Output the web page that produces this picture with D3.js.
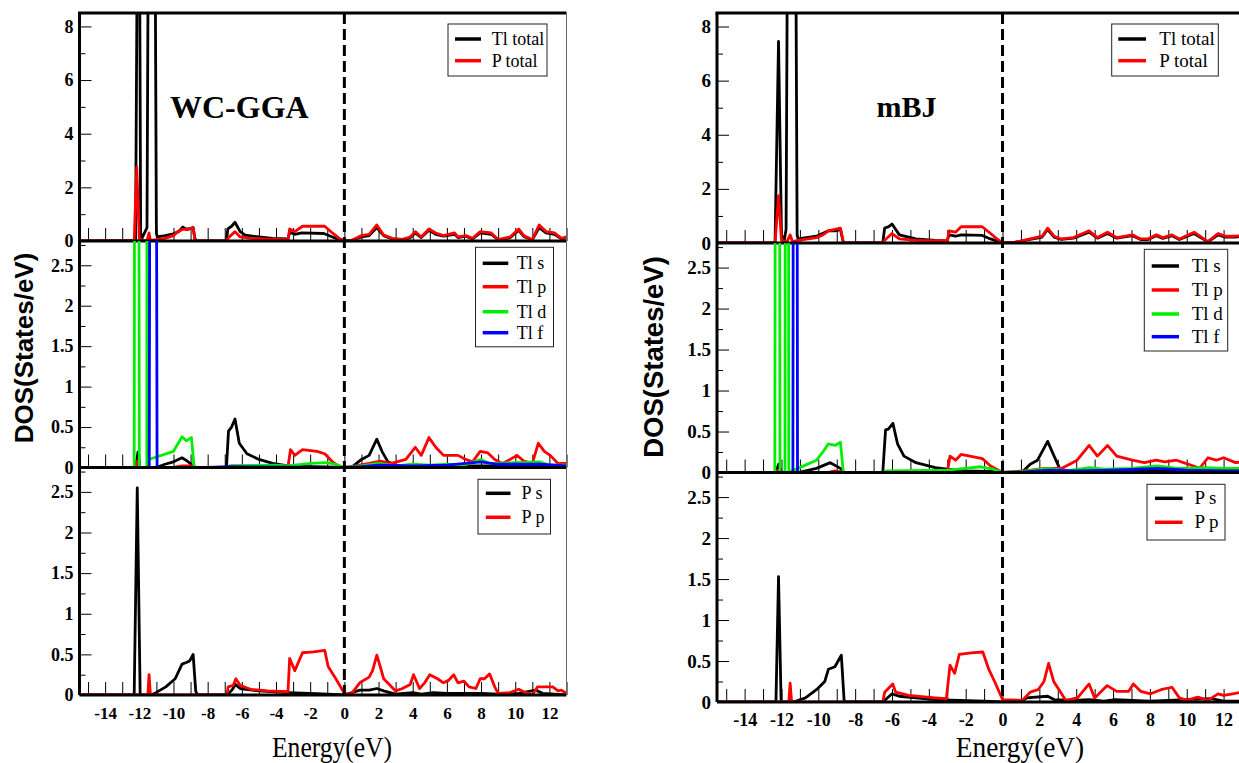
<!DOCTYPE html>
<html>
<head>
<meta charset="utf-8">
<title>DOS Tl-P</title>
<style>
  body { margin: 0; background: #fff; }
  .tick line { stroke: #000; stroke-width: 1px; }
</style>
</head>
<body>
<script src="https://d3js.org/d3.v7.min.js"></script>
<script>
'use strict';

// ---- data: [energy (eV), DOS (states/eV)] ----
const legendLabels = [['Tl total', 'P total'], ['Tl s', 'Tl p', 'Tl d', 'Tl f'], ['P s', 'P p']];
const yMax = [8.5, 2.8, 2.8];
const yMajorTicks = [[0, 2, 4, 6, 8], [0, 0.5, 1, 1.5, 2, 2.5], [0, 0.5, 1, 1.5, 2, 2.5]];
const yMinorTicks = [[1, 3, 5, 7], [0.25, 0.75, 1.25, 1.75, 2.25, 2.75], [0.25, 0.75, 1.25, 1.75, 2.25, 2.75]];
const xLabelTicks = [-14, -12, -10, -8, -6, -4, -2, 0, 2, 4, 6, 8, 10, 12];
const xMinorTicks = [-15, -13, -11, -9, -7, -5, -3, -1, 1, 3, 5, 7, 9, 11, 13];
const panelTitles = ['WC-GGA', 'mBJ'];

// WC-GGA
const wcTlTotal = [[-15.5,0],[-12.22,0.02],[-12.04,20],[-11.92,0.3],[-11.85,0.1],[-11.55,0.5],[-11.45,15],[-11.1,15],[-11.0,0.3],[-10.95,0.15],[-10.5,0.2],[-10.0,0.27],[-9.7,0.35],[-9.45,0.52],[-9.3,0.45],[-9.1,0.45],[-8.85,0.5],[-8.75,0.1],[-8.65,0],[-6.9,0],[-6.82,0.45],[-6.6,0.55],[-6.4,0.7],[-6.1,0.35],[-5.8,0.22],[-5.0,0.15],[-4.2,0.1],[-3.3,0.08],[-3.2,0.32],[-2.9,0.25],[-2.5,0.3],[-1.2,0.28],[-0.7,0.15],[-0.3,0.05],[0,0],[0.4,0.02],[1.0,0.15],[1.45,0.2],[1.9,0.5],[2.3,0.2],[2.8,0.08],[3.4,0.05],[3.85,0.12],[4.15,0.3],[4.5,0.13],[4.95,0.4],[5.35,0.25],[5.8,0.18],[6.45,0.25],[6.65,0.13],[7.1,0.18],[7.5,0.08],[7.95,0.3],[8.6,0.25],[9.0,0.04],[9.7,0.12],[10.2,0.4],[10.5,0.17],[11.0,0.04],[11.4,0.5],[11.8,0.3],[12.3,0.25],[12.7,0.08],[13,0.12]];
const wcPTotal = [[-15.5,0],[-12.3,0],[-12.15,2.75],[-12.0,0.05],[-11.55,0],[-11.43,0.3],[-11.35,0.02],[-11.0,0.05],[-10.5,0.1],[-10.0,0.2],[-9.75,0.35],[-9.45,0.44],[-9.2,0.42],[-8.85,0.5],[-8.75,0.05],[-8.65,0],[-6.9,0],[-6.82,0.1],[-6.4,0.35],[-6.1,0.15],[-5.5,0.1],[-4.5,0.07],[-3.3,0.05],[-3.2,0.45],[-2.9,0.35],[-2.45,0.55],[-1.15,0.55],[-0.7,0.3],[-0.3,0.1],[0,0],[0.4,0.02],[1.0,0.2],[1.45,0.25],[1.9,0.6],[2.3,0.22],[2.8,0.1],[3.4,0.06],[3.85,0.15],[4.15,0.35],[4.5,0.15],[4.95,0.45],[5.35,0.3],[5.8,0.2],[6.45,0.3],[6.65,0.15],[7.1,0.2],[7.5,0.1],[7.95,0.35],[8.6,0.3],[9.0,0.05],[9.7,0.15],[10.2,0.45],[10.5,0.2],[11.0,0.05],[11.4,0.6],[11.8,0.35],[12.3,0.3],[12.7,0.1],[13,0.15]];
const wcTlS = [[-15.5,0],[-12.2,0],[-12.08,0.19],[-11.98,0],[-11.0,0],[-10.5,0.04],[-10.0,0.07],[-9.5,0.12],[-9.2,0.08],[-8.85,0.02],[-8.7,0],[-6.9,0],[-6.78,0.45],[-6.6,0.5],[-6.4,0.6],[-6.15,0.3],[-5.7,0.17],[-5.0,0.1],[-4.2,0.05],[-3.3,0.02],[-2,0.01],[0,0],[0.4,0],[1.0,0.1],[1.45,0.15],[1.9,0.35],[2.2,0.2],[2.55,0.07],[3.0,0.03],[4,0.02],[13,0.02]];
const wcTlP = [[-15.5,0],[-12.2,0],[-12.1,0.08],[-12.0,0],[-10.0,0],[-9.5,0.02],[-8.85,0.02],[-8.7,0],[-6.8,0],[-6.6,0.02],[-3.3,0.01],[-3.15,0.22],[-2.9,0.15],[-2.45,0.22],[-1.6,0.2],[-1.15,0.17],[-0.7,0.07],[-0.2,0],[0.4,0.01],[1.45,0.05],[2.1,0.08],[2.75,0.05],[3.6,0.1],[4.15,0.25],[4.5,0.15],[4.95,0.37],[5.35,0.25],[5.8,0.15],[6.2,0.15],[6.65,0.15],[7.1,0.1],[7.5,0.07],[7.95,0.2],[8.4,0.18],[8.8,0.1],[9.25,0.05],[9.7,0.1],[10.1,0.15],[10.5,0.08],[11.0,0.05],[11.35,0.3],[11.7,0.2],[12.05,0.15],[12.5,0.05],[13,0.05]];
const wcTlD = [[-15.5,0],[-12.3,0],[-12.15,25],[-12.0,0],[-11.56,0],[-11.5,25],[-11.44,0.1],[-11.0,0.13],[-10.0,0.2],[-9.5,0.38],[-9.25,0.33],[-8.95,0.37],[-8.8,0.02],[-8.7,0],[-6.9,0],[-6.7,0.02],[-4,0.03],[-3.3,0.02],[-2,0.05],[-1,0.06],[-0.5,0.04],[0,0],[1,0.02],[2,0.05],[3,0.02],[4,0.04],[5,0.03],[6,0.04],[7,0.03],[8,0.1],[8.5,0.05],[10,0.06],[11.4,0.07],[12,0.03],[13,0.03]];
const wcTlF = [[-15.5,0],[-11.42,0],[-11.2,25],[-10.96,0],[-8,0],[-6.8,0.01],[0,0],[1,0.01],[2,0.03],[4,0.02],[6,0.03],[8,0.07],[9,0.04],[11.4,0.04],[13,0.02]];
const wcPS = [[-15.5,0],[-12.3,0],[-12.12,2.55],[-11.95,0],[-11.3,0],[-11.1,0.02],[-10.45,0.1],[-9.9,0.2],[-9.5,0.38],[-9.25,0.4],[-9.05,0.42],[-8.85,0.5],[-8.7,0.05],[-8.6,0],[-6.85,0],[-6.55,0.07],[-6.38,0.13],[-6.1,0.08],[-5,0.05],[-3.3,0.03],[-2,0.02],[0,0],[0.9,0.06],[1.45,0.06],[1.9,0.08],[2.3,0.05],[3.0,0.01],[4.0,0.03],[4.5,0.01],[5.2,0.03],[6,0.02],[8,0.02],[9,0.01],[10.2,0.02],[11.2,0.06],[11.6,0.02],[12.3,0.01],[13,0]];
const wcPP = [[-15.5,0],[-11.5,0],[-11.43,0.25],[-11.35,0],[-6.88,0],[-6.8,0.1],[-6.5,0.12],[-6.35,0.2],[-6.1,0.12],[-5.5,0.07],[-4.5,0.05],[-3.3,0.04],[-3.2,0.45],[-2.9,0.3],[-2.45,0.52],[-1.8,0.53],[-1.15,0.55],[-0.95,0.35],[-0.5,0.2],[0,0.02],[0.4,0.01],[0.9,0.15],[1.45,0.22],[1.65,0.3],[1.9,0.49],[2.1,0.35],[2.3,0.2],[3.0,0.05],[3.4,0.08],[3.85,0.13],[4.05,0.25],[4.4,0.08],[4.7,0.15],[5.0,0.25],[5.45,0.2],[5.8,0.15],[6.1,0.18],[6.4,0.25],[6.65,0.15],[7.0,0.17],[7.3,0.1],[7.7,0.08],[7.95,0.2],[8.2,0.2],[8.5,0.26],[8.8,0.1],[9.0,0.02],[9.7,0.03],[10.2,0.07],[10.5,0.04],[11.0,0],[11.3,0.1],[11.65,0.1],[12.2,0.1],[12.5,0.05],[12.7,0.06],[13,0.02]];

// mBJ
const mbjTlTotal = [[-15.5,0],[-12.35,0],[-12.16,7.45],[-12.0,0.3],[-11.85,0.1],[-11.75,0.5],[-11.65,15],[-11.25,15],[-11.15,0.3],[-11.1,0.15],[-10.1,0.25],[-9.45,0.45],[-9.1,0.45],[-8.8,0.5],[-8.65,0.05],[-8.55,0],[-6.5,0],[-6.4,0.55],[-6.2,0.6],[-6.0,0.7],[-5.6,0.3],[-4.7,0.15],[-3.65,0.1],[-3.0,0.08],[-2.9,0.3],[-2.55,0.25],[-2.25,0.3],[-1.1,0.28],[-0.65,0.15],[0,0],[0.65,0.02],[1.5,0.13],[2.15,0.22],[2.45,0.5],[2.8,0.22],[3.2,0.13],[3.85,0.18],[4.7,0.4],[5.15,0.18],[5.7,0.35],[6.2,0.18],[7.05,0.27],[7.5,0.13],[7.9,0.13],[8.35,0.27],[8.7,0.17],[9.2,0.27],[9.6,0.13],[10.4,0.35],[11.15,0.04],[11.7,0.3],[12.1,0.22],[12.65,0.22],[13,0.25]];
const mbjPTotal = [[-15.5,0],[-12.35,0],[-12.16,1.75],[-12.0,0.1],[-11.7,0.05],[-11.53,0.3],[-11.4,0.05],[-11.1,0.1],[-10.1,0.2],[-9.75,0.3],[-9.45,0.45],[-9.1,0.5],[-8.8,0.55],[-8.65,0.05],[-8.55,0],[-6.5,0],[-6.4,0.1],[-6.0,0.35],[-5.6,0.15],[-4.7,0.1],[-3.0,0.08],[-2.9,0.45],[-2.55,0.4],[-2.25,0.6],[-1.1,0.6],[-0.65,0.35],[-0.3,0.15],[0,0],[0.65,0.02],[1.5,0.15],[2.15,0.25],[2.45,0.55],[2.8,0.25],[3.2,0.15],[3.85,0.2],[4.7,0.45],[5.15,0.2],[5.7,0.4],[6.2,0.2],[7.05,0.3],[7.5,0.15],[7.9,0.15],[8.35,0.3],[8.7,0.2],[9.2,0.3],[9.6,0.15],[10.4,0.4],[11.15,0.05],[11.7,0.35],[12.1,0.25],[12.65,0.25],[13,0.28]];
const mbjTlS = [[-15.5,0],[-12.3,0],[-12.16,0.1],[-12.0,0],[-11.1,0],[-10.1,0.05],[-9.35,0.12],[-8.8,0.05],[-8.6,0],[-6.5,0],[-6.35,0.52],[-6.2,0.53],[-5.95,0.6],[-5.7,0.35],[-5.35,0.2],[-4.7,0.12],[-3.65,0.06],[-3.0,0.04],[-2,0.02],[-0.2,0.01],[0,0],[1.05,0],[1.5,0.1],[1.9,0.15],[2.45,0.38],[2.8,0.2],[3.1,0.05],[3.45,0.02],[13,0.02]];
const mbjTlP = [[-15.5,0],[-12.3,0],[-12.16,0.03],[-12.0,0],[-9.5,0],[-9.1,0.02],[-8.6,0],[-3.0,0],[-2.85,0.2],[-2.55,0.15],[-2.25,0.22],[-1.1,0.17],[-0.65,0.08],[0,0],[1.2,0.02],[2.3,0.05],[3.2,0.05],[4.05,0.15],[4.7,0.33],[5.15,0.2],[5.7,0.33],[6.2,0.2],[7.05,0.15],[7.7,0.12],[8.35,0.15],[8.8,0.13],[9.45,0.15],[10.1,0.1],[10.7,0.05],[11.15,0.18],[11.6,0.15],[12.0,0.18],[12.65,0.12],[13,0.13]];
const mbjTlD = [[-15.5,0],[-12.36,0],[-12.22,25],[-12.08,0],[-11.81,0],[-11.7,25],[-11.6,0],[-11.1,0.05],[-10.1,0.15],[-9.75,0.25],[-9.45,0.35],[-9.1,0.33],[-8.8,0.37],[-8.65,0.02],[-8.55,0],[-6.5,0],[-6.3,0.02],[-3,0.03],[-2,0.05],[-1.2,0.07],[-0.5,0.04],[0,0],[1,0.01],[2.5,0.05],[3.5,0.02],[4.7,0.06],[5.5,0.04],[7,0.05],[8.4,0.08],[9.5,0.05],[11,0.06],[12,0.05],[13,0.05]];
const mbjTlF = [[-15.5,0],[-11.38,0],[-11.25,25],[-11.13,0],[-8,0],[0,0],[1,0.005],[2.5,0.03],[4,0.02],[6,0.03],[8.4,0.05],[10,0.03],[12,0.02],[13,0.02]];
const mbjPS = [[-15.5,0],[-12.3,0],[-12.16,1.53],[-12.02,0],[-11.35,0],[-10.7,0.05],[-10.1,0.15],[-9.65,0.25],[-9.45,0.4],[-9.1,0.43],[-8.75,0.57],[-8.6,0.02],[-8.5,0],[-6.5,0],[-6.0,0.1],[-5.6,0.07],[-3.65,0.03],[-1,0.01],[0,0],[1.0,0],[1.3,0.05],[2.45,0.07],[2.8,0.03],[3.85,0.02],[4.7,0.03],[5.5,0.01],[6.1,0.03],[8,0.01],[11.35,0.04],[12,0.01],[13,0.01]];
const mbjPP = [[-15.5,0],[-11.6,0],[-11.53,0.23],[-11.45,0],[-6.5,0],[-6.4,0.12],[-5.96,0.22],[-5.8,0.12],[-5.1,0.08],[-3.65,0.05],[-3.05,0.04],[-2.85,0.45],[-2.6,0.35],[-2.35,0.58],[-1.7,0.6],[-1.07,0.61],[-0.75,0.4],[-0.43,0.25],[0,0.03],[1.07,0.02],[1.5,0.12],[1.93,0.15],[2.25,0.25],[2.5,0.47],[2.78,0.25],[3.43,0.02],[4.07,0.05],[4.7,0.22],[5.0,0.05],[5.68,0.2],[6.2,0.13],[6.85,0.13],[7.1,0.22],[7.5,0.13],[8.04,0.1],[8.6,0.15],[9.2,0.18],[9.6,0.05],[10.0,0.02],[10.6,0.06],[11.15,0.02],[11.7,0.1],[12.0,0.08],[12.5,0.1],[13,0.12]];

// ---- layout ----
const serif = "'Liberation Serif', 'Times New Roman', serif";
const colors = [['#000', '#ff0000'], ['#000', '#ff0000', '#00ee00', '#0000ff'], ['#000', '#ff0000']];
const columns = [
  {
    x0: 79.5, x1: 566.5, rows: [13, 241, 467.5, 695], fs: 17, xpad: 12, showRight: true,
    series: [[wcTlTotal, wcPTotal], [wcTlS, wcTlP, wcTlD, wcTlF], [wcPS, wcPP]],
    title: {x: 170, y: 118, size: 32},
    ylab: {x: 33, y: 348, size: 26},
    xlab: {x: 332, y: 757, size: 29, sx: 0.88},
    legends: [
      {x: 448, y: 24, w: 99, h: 52, rows: [39, 60.7], lx: [455, 481], tx: 491.7},
      {x: 475.5, y: 247.3, w: 78, h: 99.5, rows: [263.3, 286.7, 311.7, 332.7], lx: [482.7, 508.3], tx: 516.7},
      {x: 478, y: 479.3, w: 72.5, h: 54.7, rows: [493.3, 517.3], lx: [485.8, 510.5], tx: 521.6}
    ]
  },
  {
    x0: 717, x1: 1242, rows: [13, 243, 472.5, 702], fs: 18, xpad: 11, showRight: false,
    series: [[mbjTlTotal, mbjPTotal], [mbjTlS, mbjTlP, mbjTlD, mbjTlF], [mbjPS, mbjPP]],
    title: {x: 876.6, y: 117, size: 30},
    ylab: {x: 663, y: 357, size: 27.5},
    xlab: {x: 1020, y: 757, size: 30, sx: 0.91},
    legends: [
      {x: 1111.7, y: 24, w: 106.6, h: 52, rows: [39, 60.7], lx: [1118.3, 1146], tx: 1159.3},
      {x: 1144.3, y: 249.3, w: 83.4, h: 101.7, rows: [266, 290, 314, 336.7], lx: [1151.7, 1179], tx: 1191.7},
      {x: 1147, y: 484.3, w: 78, h: 55.7, rows: [498.3, 522.3], lx: [1155, 1182.6], tx: 1194.4}
    ]
  }
];

const svg = d3.select('body').append('svg')
  .attr('width', 1239)
  .attr('height', 763)
  .style('display', 'block');

columns.forEach(function(col, ci) {
  const x = d3.scaleLinear().domain([-15.5, 13]).range([col.x0, col.x1]);
  const g = svg.append('g');

  col.series.forEach(function(group, pi) {
    const top = col.rows[pi];
    const bottom = col.rows[pi + 1];
    const y = d3.scaleLinear().domain([0, yMax[pi]]).range([bottom, top]);

    // odd-eV x ticks
    g.append('g')
      .attr('transform', 'translate(0,' + bottom + ')')
      .call(d3.axisBottom(x).tickValues(xMinorTicks).tickSizeInner(-13).tickSizeOuter(0).tickFormat(''))
      .call(a => a.select('.domain').remove());
    // even-eV x ticks, labels only on the lowest panel
    const xa = g.append('g')
      .attr('transform', 'translate(0,' + bottom + ')')
      .call(d3.axisBottom(x).tickValues(xLabelTicks).tickSizeInner(-13).tickSizeOuter(0)
        .tickPadding(pi === 2 ? col.xpad : 0)
        .tickFormat(pi === 2 ? (d => String(d)) : ''))
      .call(a => a.select('.domain').remove());
    xa.selectAll('text')
      .style('font-family', serif).style('font-weight', 'bold')
      .style('font-size', col.fs + 'px');

    // y ticks
    g.append('g')
      .attr('transform', 'translate(' + col.x0 + ',0)')
      .call(d3.axisLeft(y).tickValues(yMinorTicks[pi]).tickSizeInner(-6).tickSizeOuter(0).tickFormat(''))
      .call(a => a.select('.domain').remove());
    const ya = g.append('g')
      .attr('transform', 'translate(' + col.x0 + ',0)')
      .call(d3.axisLeft(y).tickValues(yMajorTicks[pi]).tickSizeInner(-12).tickSizeOuter(0)
        .tickFormat(d => String(d)))
      .call(a => a.select('.domain').remove());
    ya.selectAll('text')
      .attr('x', -6)
      .style('font-family', serif).style('font-weight', 'bold')
      .style('font-size', (col.fs + 1) + 'px');

    // curves
    const clipId = 'clip' + ci + pi;
    svg.append('clipPath').attr('id', clipId)
      .append('rect')
      .attr('x', col.x0).attr('y', top)
      .attr('width', col.x1 - col.x0).attr('height', bottom - top);
    const line = d3.line().x(d => x(d[0])).y(d => y(d[1]));
    const lg = g.append('g').attr('clip-path', 'url(#' + clipId + ')');
    group.forEach(function(data, si) {
      lg.append('path')
        .datum(data)
        .attr('d', line)
        .attr('fill', 'none')
        .attr('stroke', colors[pi][si])
        .attr('stroke-width', 2.8)
        .attr('stroke-linejoin', 'round');
    });

    // bottom frame of each panel
    g.append('line')
      .attr('x1', col.x0).attr('x2', col.x1)
      .attr('y1', bottom).attr('y2', bottom)
      .attr('stroke', '#000').attr('stroke-width', 3);

    // legend
    const L = col.legends[pi];
    const leg = g.append('g');
    leg.append('rect')
      .attr('x', L.x).attr('y', L.y).attr('width', L.w).attr('height', L.h)
      .attr('fill', '#fff').attr('stroke', '#222').attr('stroke-width', 1);
    legendLabels[pi].forEach(function(lab, si) {
      leg.append('line')
        .attr('x1', L.lx[0]).attr('x2', L.lx[1])
        .attr('y1', L.rows[si]).attr('y2', L.rows[si])
        .attr('stroke', colors[pi][si]).attr('stroke-width', 3.5);
      leg.append('text')
        .attr('x', L.tx).attr('y', L.rows[si] + 6)
        .style('font-family', serif)
        .style('font-size', (col.fs + 1) + 'px')
        .text(lab);
    });
  });

  // top and side frame
  g.append('line')
    .attr('x1', col.x0 - 1.5).attr('x2', col.x1)
    .attr('y1', col.rows[0]).attr('y2', col.rows[0])
    .attr('stroke', '#000').attr('stroke-width', 3);
  g.append('line')
    .attr('x1', col.x0).attr('x2', col.x0)
    .attr('y1', col.rows[0]).attr('y2', col.rows[3])
    .attr('stroke', '#000').attr('stroke-width', 3);
  if (col.showRight) {
    g.append('line')
      .attr('x1', col.x1).attr('x2', col.x1)
      .attr('y1', col.rows[0]).attr('y2', col.rows[3])
      .attr('stroke', '#666').attr('stroke-width', 1);
  }

  // Fermi level
  g.append('line')
    .attr('x1', x(0)).attr('x2', x(0))
    .attr('y1', col.rows[0]).attr('y2', col.rows[3])
    .attr('stroke', '#000').attr('stroke-width', 3)
    .attr('stroke-dasharray', '11,5');

  // texts
  g.append('text')
    .attr('x', col.title.x).attr('y', col.title.y)
    .style('font-family', serif)
    .style('font-weight', 'bold')
    .style('font-size', col.title.size + 'px')
    .text(panelTitles[ci]);
  g.append('text')
    .attr('transform', 'translate(' + col.ylab.x + ',' + col.ylab.y + ') rotate(-90)')
    .attr('text-anchor', 'middle')
    .style('font-family', "'Liberation Sans', Arial, sans-serif")
    .style('font-weight', 'bold')
    .style('font-size', col.ylab.size + 'px')
    .text('DOS(States/eV)');
  g.append('text')
    .attr('transform', 'translate(' + col.xlab.x + ',' + col.xlab.y + ') scale(' + col.xlab.sx + ',1)')
    .attr('text-anchor', 'middle')
    .style('font-family', serif)
    .style('font-size', col.xlab.size + 'px')
    .text('Energy(eV)');
});
</script>
</body>
</html>
